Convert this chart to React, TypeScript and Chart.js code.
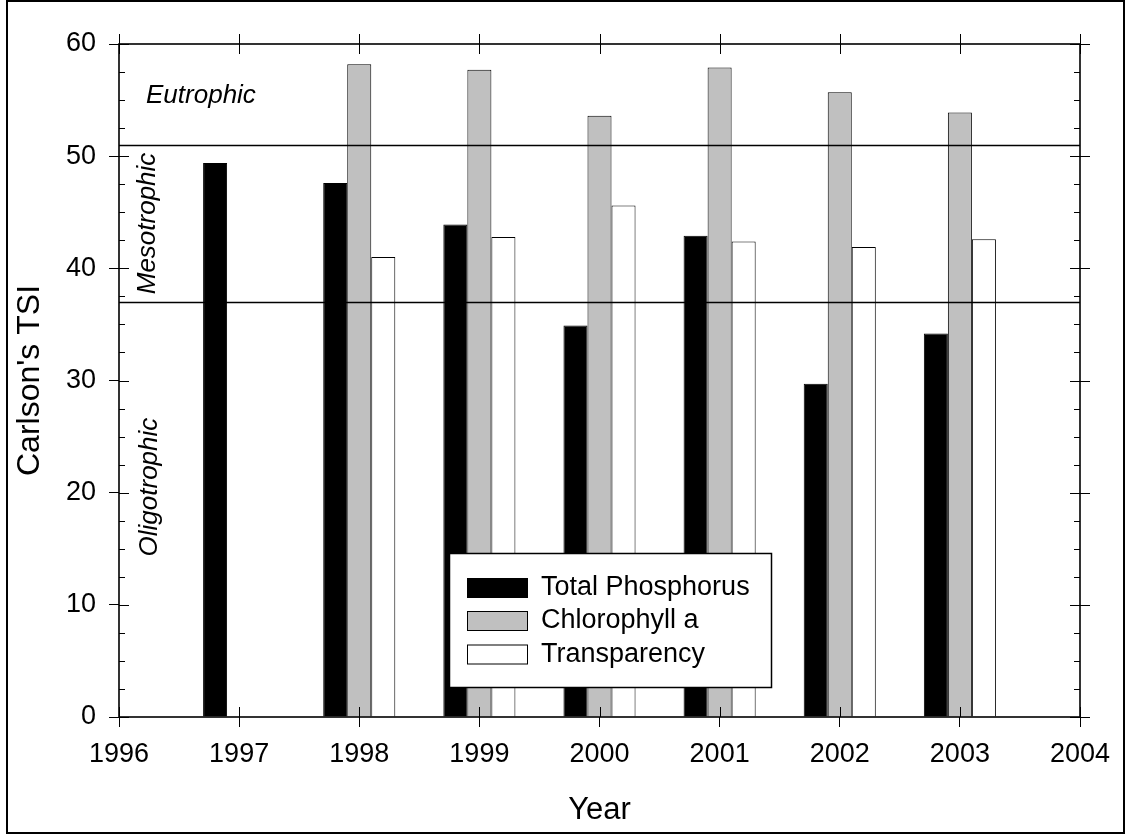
import React, { useEffect, useRef } from 'react';
import { Chart, registerables } from 'chart.js';

Chart.register(...registerables);

// ---- data ----
const tpYears = [1997, 1998, 1999, 2000, 2001, 2002, 2003];
const totalPhosphorus = [49.4, 47.6, 43.9, 34.9, 42.9, 29.7, 34.2];
const chlYears = [1998, 1999, 2000, 2001, 2002, 2003];
const chlorophyllA = [58.2, 57.7, 53.6, 57.9, 55.7, 53.9];
const transparency = [41.0, 42.8, 45.6, 42.4, 41.9, 42.6];
const seriesNames = ['Total Phosphorus', 'Chlorophyll a', 'Transparency'];
const xRange = [1996, 2004];
const yRange = [0, 60];
const yMajorStep = 10;
const yMinorStep = 2.5;
const trophicBounds = [51, 37];
const zoneNames = ['Eutrophic', 'Mesotrophic', 'Oligotrophic'];
const zoneX = [1996.225, 1996.24, 1996.26];
const zoneY = [55.4, 44, 20.5];

const FONT = '"Liberation Sans", Arial, Helvetica, sans-serif';

const overlayPlugin = {
  id: 'overlay',
  afterDatasetsDraw(chart: any) {
    const { ctx, chartArea: a, scales } = chart;
    const x = scales.x;
    const y = scales.y;
    ctx.save();
    // trophic boundaries
    ctx.strokeStyle = '#000';
    ctx.lineWidth = 1.6;
    for (const v of trophicBounds) {
      const py = Math.round(y.getPixelForValue(v)) + 0.5;
      ctx.beginPath();
      ctx.moveTo(a.left, py);
      ctx.lineTo(a.right, py);
      ctx.stroke();
    }
    // zone labels
    ctx.fillStyle = '#000';
    ctx.font = 'italic 26px ' + FONT;
    ctx.textAlign = 'left';
    ctx.textBaseline = 'middle';
    ctx.fillText(zoneNames[0], x.getPixelForValue(zoneX[0]), y.getPixelForValue(zoneY[0]));
    for (let i = 1; i < 3; i++) {
      ctx.save();
      ctx.translate(x.getPixelForValue(zoneX[i]), y.getPixelForValue(zoneY[i]));
      ctx.rotate(-Math.PI / 2);
      ctx.textAlign = 'center';
      ctx.textBaseline = 'middle';
      ctx.fillText(zoneNames[i], 0, 0);
      ctx.restore();
    }
    // legend
    const lx = a.left + 330;
    const ly = a.top + 509;
    const lw = 322;
    const lh = 134;
    ctx.fillStyle = '#fff';
    ctx.fillRect(lx, ly, lw, lh);
    ctx.strokeStyle = '#000';
    ctx.lineWidth = 1.5;
    ctx.strokeRect(lx + 0.5, ly + 0.5, lw, lh);
    const rowCenters = [35, 68, 101.5];
    chart.data.datasets.forEach((ds: any, i: number) => {
      const cy = ly + rowCenters[i];
      ctx.fillStyle = ds.backgroundColor;
      ctx.fillRect(lx + 18, cy - 10, 61, 20);
      ctx.strokeStyle = '#000';
      ctx.lineWidth = 1;
      ctx.strokeRect(lx + 18.5, cy - 9.5, 60, 19);
      ctx.fillStyle = '#000';
      ctx.font = '27px ' + FONT;
      ctx.textAlign = 'left';
      ctx.textBaseline = 'middle';
      ctx.fillText(ds.label, lx + 92, cy);
    });
    // frame
    ctx.strokeStyle = '#000';
    ctx.lineWidth = 1.6;
    ctx.strokeRect(a.left, a.top, a.right - a.left, a.bottom - a.top);
    // ticks
    ctx.lineWidth = 1;
    ctx.beginPath();
    for (const t of y.ticks) {
      const py = Math.round(y.getPixelForValue(t.value)) + 0.5;
      ctx.moveTo(a.left, py);
      ctx.lineTo(a.left + 10, py);
      ctx.moveTo(a.right - 10, py);
      ctx.lineTo(a.right + 10, py);
    }
    for (let v = yRange[0]; v <= yRange[1]; v += yMinorStep) {
      if (v % yMajorStep === 0) continue;
      const py = Math.round(y.getPixelForValue(v)) + 0.5;
      ctx.moveTo(a.left, py);
      ctx.lineTo(a.left + 6, py);
      ctx.moveTo(a.right - 6, py);
      ctx.lineTo(a.right, py);
    }
    for (const t of x.ticks) {
      const px = Math.round(x.getPixelForValue(t.value)) + 0.5;
      ctx.moveTo(px, a.top - 10);
      ctx.lineTo(px, a.top + 10);
      ctx.moveTo(px, a.bottom - 10);
      ctx.lineTo(px, a.bottom);
    }
    ctx.stroke();
    ctx.restore();
  },
};

export default function App() {
  const canvasRef = useRef<HTMLCanvasElement | null>(null);

  useEffect(() => {
    if (!canvasRef.current) return;
    const chart = new Chart(canvasRef.current, {
      type: 'bar',
      data: {
        datasets: [
          {
            label: seriesNames[0],
            data: tpYears.map((yr, i) => ({ x: yr, y: totalPhosphorus[i] })),
            backgroundColor: '#000000',
            borderColor: '#000000',
            borderWidth: 1,
          },
          {
            label: seriesNames[1],
            data: chlYears.map((yr, i) => ({ x: yr, y: chlorophyllA[i] })),
            backgroundColor: '#c0c0c0',
            borderColor: '#000000',
            borderWidth: 1,
          },
          {
            label: seriesNames[2],
            data: chlYears.map((yr, i) => ({ x: yr, y: transparency[i] })),
            backgroundColor: '#ffffff',
            borderColor: '#000000',
            borderWidth: 1,
          },
        ],
      } as any,
      options: {
        responsive: false,
        animation: false,
        events: [],
        layout: { padding: { left: 0, top: 44, right: 46, bottom: 0 } },
        datasets: { bar: { categoryPercentage: 0.6, barPercentage: 1.0 } } as any,
        plugins: {
          legend: { display: false },
          tooltip: { enabled: false },
        },
        scales: {
          x: {
            type: 'linear',
            min: xRange[0],
            max: xRange[1],
            offset: false,
            afterFit: (s: any) => {
              s.height = 118;
            },
            grid: {
              display: true,
              offset: false,
              drawOnChartArea: false,
              drawTicks: true,
              tickLength: 10,
              color: '#000',
              lineWidth: 1,
            },
            border: { display: false },
            ticks: {
              stepSize: 1,
              color: '#000',
              font: { family: FONT, size: 27 },
              padding: 11,
              maxRotation: 0,
              autoSkip: false,
              callback: (v: any) => String(v),
            },
            title: {
              display: true,
              text: 'Year',
              color: '#000',
              font: { family: FONT, size: 31 },
              padding: { top: 0, bottom: 6 },
            },
          },
          y: {
            type: 'linear',
            min: yRange[0],
            max: yRange[1],
            afterFit: (s: any) => {
              s.width = 119;
            },
            grid: {
              display: true,
              drawOnChartArea: false,
              drawTicks: true,
              tickLength: 10,
              color: '#000',
              lineWidth: 1,
            },
            border: { display: false },
            ticks: {
              stepSize: yMajorStep,
              color: '#000',
              font: { family: FONT, size: 27 },
              padding: 13,
            },
            title: {
              display: true,
              text: "Carlson's TSI",
              color: '#000',
              font: { family: FONT, size: 32 },
              padding: { top: 11, bottom: 0 },
            },
          },
        },
      } as any,
      plugins: [overlayPlugin],
    });
    return () => chart.destroy();
  }, []);

  return (
    <div style={{ position: 'fixed', left: 0, top: 0, width: 1126, height: 835, background: '#fff' }}>
      <canvas ref={canvasRef} width={1126} height={835} style={{ display: 'block' }} />
      <div
        style={{
          position: 'absolute',
          left: 6,
          top: 0,
          width: 1119,
          height: 834,
          border: '2px solid #000',
          boxSizing: 'border-box',
          pointerEvents: 'none',
        }}
      />
    </div>
  );
}
